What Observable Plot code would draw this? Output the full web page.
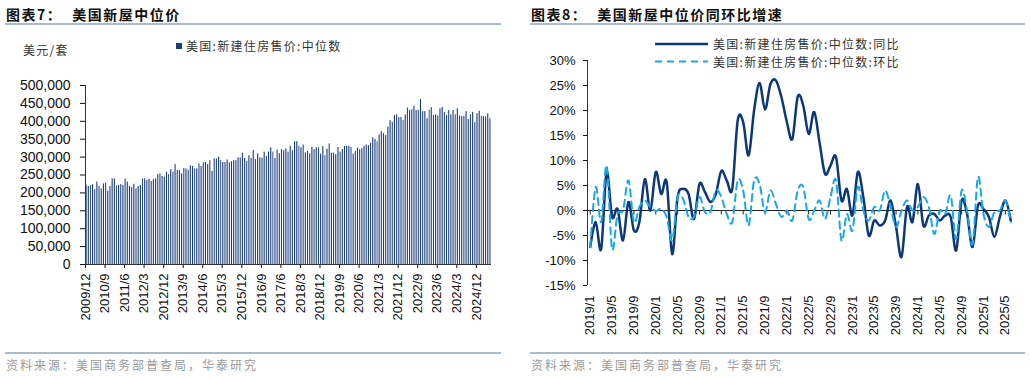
<!DOCTYPE html>
<html><head><meta charset="utf-8">
<script src="https://cdn.jsdelivr.net/npm/d3@7"></script>
<script src="https://cdn.jsdelivr.net/npm/@observablehq/plot@0.6"></script>
<style>
body{margin:0;background:#fff;}
#wrap{position:relative;width:1030px;height:377px;overflow:hidden;background:#fff;font-family:"Noto Sans CJK SC","Noto Sans",sans-serif;}
.t{position:absolute;white-space:pre;line-height:1;}
.title{font-size:14px;font-weight:700;color:#111;letter-spacing:1.5px;}
.rule{position:absolute;height:1.5px;background:#a9bbd3;}
.src{font-size:12px;color:#9a9a9a;letter-spacing:2px;}
.lg{font-size:12px;color:#333;letter-spacing:1.3px;}
.chart{position:absolute;top:30px;}
</style></head>
<body><div id="wrap">
  <div class="t title" style="left:6px;top:7px;">图表7：<span style="display:inline-block;width:10px"></span>美国新屋中位价</div>
  <div class="rule" style="left:5px;top:23px;width:496px;"></div>
  <div class="t title" style="left:531px;top:7px;">图表8：<span style="display:inline-block;width:10px"></span>美国新屋中位价同环比增速</div>
  <div class="rule" style="left:530px;top:23px;width:495px;"></div>

  <div class="t lg" style="left:23px;top:44px;">美元/套</div>
  <div style="position:absolute;left:176px;top:43px;width:6px;height:6px;background:#1b3e7c;"></div>
  <div class="t lg" style="left:186px;top:40px;">美国:新建住房售价:中位数</div>

  <svg style="position:absolute;left:654px;top:38px;" width="56" height="30">
    <line x1="1" x2="54" y1="6" y2="6" stroke="#0c3877" stroke-width="2.5"/>
    <line x1="1" x2="54" y1="23.5" y2="23.5" stroke="#17a7ea" stroke-width="2" stroke-dasharray="7,5"/>
  </svg>
  <div class="t lg" style="left:713px;top:38px;">美国:新建住房售价:中位数:同比</div>
  <div class="t lg" style="left:713px;top:56px;">美国:新建住房售价:中位数:环比</div>

  <div id="left" class="chart" style="left:0px;"></div>
  <div id="right" class="chart" style="left:515px;"></div>

  <div class="rule" style="left:5px;top:352px;width:496px;"></div>
  <div class="rule" style="left:530px;top:352px;width:495px;"></div>
  <div class="t src" style="left:6px;top:359px;">资料来源：美国商务部普查局，华泰研究</div>
  <div class="t src" style="left:531px;top:359px;">资料来源：美国商务部普查局，华泰研究</div>
</div>
<script>
// ---------- Left chart data: US new home median sales price (USD/unit), monthly from 2009/12 ----------
const price2009 = [221000];
const price2010 = [218000, 220000, 223000, 209000, 230000, 218000, 211000, 225000, 227000, 205000, 218000, 239000];
const price2011 = [239000, 219000, 221000, 223000, 221000, 239000, 230000, 218000, 215000, 224000, 211000, 218000];
const price2012 = [221000, 239000, 239000, 235000, 238000, 232000, 237000, 239000, 251000, 253000, 246000, 244000];
const price2013 = [258000, 251000, 265000, 258000, 279000, 263000, 262000, 253000, 268000, 267000, 263000, 276000];
const price2014 = [274000, 267000, 267000, 281000, 274000, 284000, 285000, 279000, 290000, 260000, 295000, 295000];
const price2015 = [300000, 290000, 285000, 285000, 292000, 284000, 287000, 290000, 290000, 298000, 298000, 311000];
const price2016 = [296000, 288000, 304000, 296000, 318000, 293000, 309000, 298000, 297000, 314000, 302000, 314000];
const price2017 = [326000, 314000, 296000, 320000, 309000, 321000, 318000, 323000, 314000, 330000, 318000, 343000];
const price2018 = [343000, 330000, 326000, 334000, 312000, 316000, 309000, 327000, 321000, 326000, 326000, 308000];
const price2019 = [329000, 304000, 322000, 337000, 311000, 311000, 307000, 327000, 314000, 321000, 330000, 330000];
const price2020 = [330000, 327000, 308000, 316000, 325000, 321000, 323000, 330000, 334000, 332000, 339000, 354000];
const price2021 = [349000, 343000, 362000, 371000, 365000, 360000, 384000, 402000, 397000, 416000, 418000, 410000];
const price2022 = [411000, 402000, 418000, 437000, 430000, 432000, 442000, 430000, 431000, 461000, 427000, 427000];
const price2023 = [407000, 431000, 438000, 416000, 418000, 415000, 435000, 439000, 425000, 416000, 430000, 418000];
const price2024 = [430000, 418000, 435000, 415000, 413000, 414000, 427000, 405000, 418000, 425000, 396000, 421000];
const price2025 = [428000, 414000, 413000, 412000, 421000, 407000];
const medianPrice = [].concat(price2009, price2010, price2011, price2012, price2013, price2014, price2015,
  price2016, price2017, price2018, price2019, price2020, price2021, price2022, price2023, price2024, price2025);
const leftStart = {year: 2009, month: 12};
const leftTickLabels = ["2009/12","2010/9","2011/6","2012/3","2012/12","2013/9","2014/6","2015/3","2015/12",
  "2016/9","2017/6","2018/3","2018/12","2019/9","2020/6","2021/3","2021/12","2022/9","2023/6","2024/3","2024/12"];
const leftYTicks = [0, 50000, 100000, 150000, 200000, 250000, 300000, 350000, 400000, 450000, 500000];

// ---------- Right chart data: YoY / MoM (%), monthly from 2019/1 ----------
const yoy2019 = [-7.3, -2.3, -7.7, 7.7, -1.3, 0.3, -6.0, 1.7, -4.0, -2.3, 6.3, 0.0];
const yoy2020 = [7.7, 3.3, 5.7, -8.7, 2.7, 4.3, 3.3, -1.7, 5.3, 3.7, 1.7, 3.3];
const yoy2021 = [7.9, 6.0, 4.3, 18.0, 17.7, 11.0, 20.0, 25.5, 20.2, 25.3, 26.0, 22.7];
const yoy2022 = [17.7, 14.3, 22.8, 21.0, 15.3, 19.7, 13.5, 7.3, 9.0, 10.7, 2.0, 4.3];
const yoy2023 = [-1.0, 7.7, 2.7, -5.0, -2.0, -3.0, -2.0, 2.0, -3.3, -9.3, 0.7, -2.3];
const yoy2024 = [5.3, -3.0, -1.0, -0.7, -2.0, -1.0, -1.3, -8.0, 2.0, -0.7, -7.3, 1.0];
const yoy2025 = [0.3, -1.3, -5.3, -1.3, 2.0, -2.0];
const mom2019 = [-7.3, 4.7, -2.3, 9.0, -7.7, -0.7, 0.0, 6.0, -2.3, 0.7, 2.0, 0.7];
const mom2020 = [-0.1, 0.3, -1.3, -6.0, 2.7, 2.3, -1.3, -1.3, 2.7, -0.3, -0.3, 4.0];
const mom2021 = [2.7, -0.7, -2.3, 6.0, 4.0, -3.0, 6.0, 5.3, -0.3, 4.0, 1.3, -1.3];
const mom2022 = [0.0, -2.0, 4.0, 4.7, -1.7, 0.0, 2.0, -1.7, 2.7, 6.0, -6.0, -0.7];
const mom2023 = [-4.0, 4.7, 0.0, -2.0, 0.7, 0.0, 4.0, 0.7, -3.3, 0.0, 2.0, 0.0];
const mom2024 = [0.7, 2.7, 0.7, -4.7, 0.0, -0.7, 3.0, -5.7, 4.0, 0.0, -6.7, 6.7];
const mom2025 = [-0.7, -3.3, -0.3, 0.0, 2.0, -2.3];
const yoy = [].concat(yoy2019, yoy2020, yoy2021, yoy2022, yoy2023, yoy2024, yoy2025);
const mom = [].concat(mom2019, mom2020, mom2021, mom2022, mom2023, mom2024, mom2025);
const rightTickLabels = ["2019/1","2019/5","2019/9","2020/1","2020/5","2020/9","2021/1","2021/5","2021/9",
  "2022/1","2022/5","2022/9","2023/1","2023/5","2023/9","2024/1","2024/5","2024/9","2025/1","2025/5"];
const rightYTicks = [-15, -10, -5, 0, 5, 10, 15, 20, 25, 30];

// ---------- Left chart ----------
const utcMonth = (y, m) => new Date(Date.UTC(y, m - 1, 1));
const priceRows = medianPrice.map((v, i) => ({
  start: utcMonth(leftStart.year, leftStart.month + i),
  end: utcMonth(leftStart.year, leftStart.month + i + 1),
  value: v
}));
const leftTicks = leftTickLabels.map(s => { const [y, m] = s.split("/").map(Number); return utcMonth(y, m); });
const xStart = priceRows[0].start, xEnd = priceRows[priceRows.length - 1].end;
const axisFont = {fontFamily: '"Liberation Sans", Arial, sans-serif', fontSize: "13px", color: "#111", background: "transparent", overflow: "visible"};

const left = Plot.plot({
  width: 515, height: 310,
  marginLeft: 85, marginRight: 24, marginTop: 55, marginBottom: 76,
  style: axisFont,
  x: {type: "utc", domain: [xStart, xEnd], label: null},
  y: {domain: [0, 500000], label: null},
  marks: [
    Plot.axisX({ticks: leftTicks, tickFormat: d => `${d.getUTCFullYear()}/${d.getUTCMonth() + 1}`,
      tickRotate: -90, tickSize: 4, tickPadding: 5, label: null}),
    Plot.axisY({ticks: leftYTicks, tickFormat: d3.format(","), tickSize: 5, tickPadding: 10, fontSize: 14, label: null}),
    Plot.rectY(priceRows, {x1: "start", x2: "end", y: "value", fill: "#1b3e7c", insetLeft: 0.55, insetRight: 0.55}),
    Plot.ruleY([0], {stroke: "#333", strokeWidth: 1}),
    Plot.ruleX([xStart], {stroke: "#333", strokeWidth: 1})
  ]
});
document.getElementById("left").appendChild(left);

// ---------- Right chart ----------
const yoyRows = yoy.map((v, i) => ({i, v}));
const momRows = mom.map((v, i) => ({i, v}));
const rightTickIdx = rightTickLabels.map((_, k) => k * 4);
const right = Plot.plot({
  width: 515, height: 310,
  marginLeft: 72, marginRight: 17, marginTop: 30, marginBottom: 55,
  style: axisFont,
  x: {type: "linear", domain: [-0.5, yoy.length - 0.5], ticks: rightTickIdx,
      tickFormat: i => rightTickLabels[i / 4], tickRotate: -90, tickSize: 0, tickPadding: 10, label: null},
  y: {domain: [-15, 30], ticks: rightYTicks, tickFormat: d => d + "%", tickSize: 4, tickPadding: 8, label: null},
  marks: [
    Plot.ruleX([-0.5], {stroke: "#333", strokeWidth: 1}),
    Plot.ruleY([0], {stroke: "#222", strokeWidth: 1}),
    Plot.ruleX(rightTickIdx, {x: d => d, y1: 0, y2: -0.9, stroke: "#222", strokeWidth: 1}),
    Plot.line(yoyRows, {x: "i", y: "v", curve: "cardinal", stroke: "#0c3877", strokeWidth: 2.5}),
    Plot.line(momRows, {x: "i", y: "v", curve: "cardinal", stroke: "#17a7ea", strokeWidth: 2, strokeDasharray: "7,5"})
  ]
});
document.getElementById("right").appendChild(right);
</script>
</body></html>
